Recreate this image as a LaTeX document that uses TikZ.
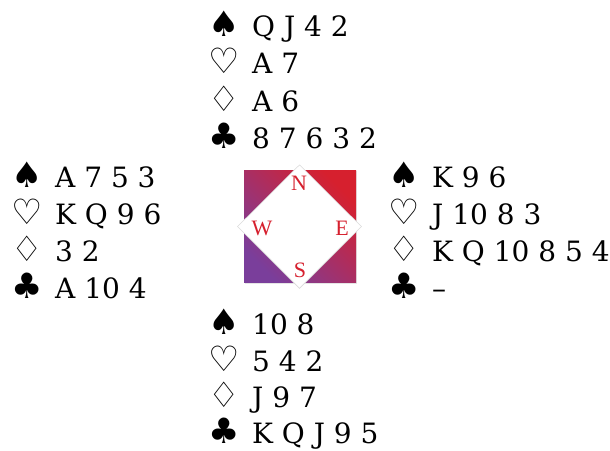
\documentclass[tikz,border=0pt]{standalone}
\usepackage{fontspec}
\setmainfont{DejaVu Serif}
\newfontfamily\suitfont{DejaVu Sans}
\newfontfamily\dirfont{Liberation Serif}
\definecolor{cred}{RGB}{214,32,46}
\definecolor{cpurple}{RGB}{122,62,155}
\newcommand\handrow[5]{%
  \node[suitsym] (#1s) at (#2-44,#3) {#4};
  \node[cards] (#1c) at (#2,#3) {#5};}
\begin{document}
\begin{tikzpicture}[x=1pt,y=-1pt,
  cards/.style={anchor=base west, inner sep=0, font=\fontsize{28}{28}\selectfont},
  suitsym/.style={anchor=base west, inner sep=0, font=\suitfont\fontsize{35}{35}\selectfont},
  dir/.style={text=cred, font=\dirfont\fontsize{22}{22}\selectfont, inner sep=0}]
\useasboundingbox (0,0) rectangle (610,450);
% board
\fill[black!10] (244.5,171) rectangle (357,283.5);
\node[minimum size=112, inner sep=0, shade, top color=cred, bottom color=cpurple, shading angle=-45] (board) at (300,226.5) {};
\fill[black!14] (299.5,164.5) -- (361.8,226.5) -- (299.5,288.8) -- (237.2,226.5) -- cycle;
\fill[white] (299.5,165.5) -- (360.8,226.5) -- (299.5,287.5) -- (238.2,226.5) -- cycle;
\node[dir] (dN) at (299,183) {N};
\node[dir] (dW) at (262,228) {W};
\node[dir] (dE) at (342,228) {E};
\node[dir] (dS) at (300,270) {S};
% North
\handrow{n1}{252}{36}{♠}{Q J 4 2}
\handrow{n2}{252}{73.5}{♡}{A 7}
\handrow{n3}{252}{111}{♢}{A 6}
\handrow{n4}{252}{148.5}{♣}{8 7 6 3 2}
% West
\handrow{w1}{55}{187}{♠}{A 7 5 3}
\handrow{w2}{55}{224.5}{♡}{K Q 9 6}
\handrow{w3}{55}{261}{♢}{3 2}
\handrow{w4}{55}{298}{♣}{A 10 4}
% East
\handrow{e1}{432}{187}{♠}{K 9 6}
\handrow{e2}{432}{224.5}{♡}{J 10 8 3}
\handrow{e3}{432}{261}{♢}{K Q 10 8 5 4}
\handrow{e4}{432}{298}{♣}{–}
% South
\handrow{s1}{252}{334}{♠}{10 8}
\handrow{s2}{252}{371}{♡}{5 4 2}
\handrow{s3}{252}{407.5}{♢}{J 9 7}
\handrow{s4}{252}{443}{♣}{K Q J 9 5}
\end{tikzpicture}
\end{document}
